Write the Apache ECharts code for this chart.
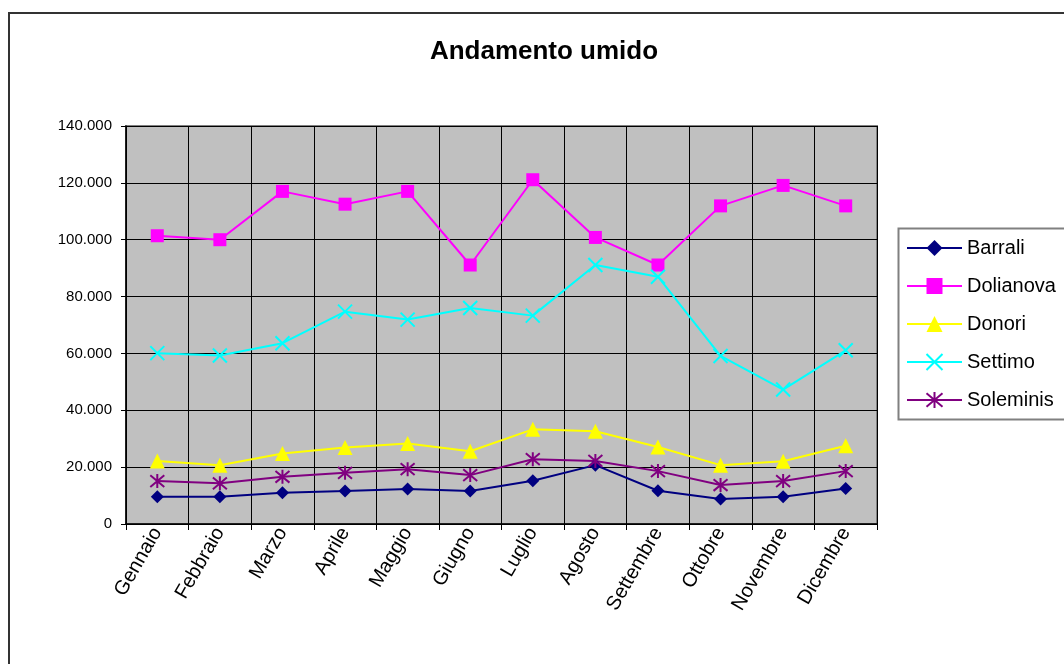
<!DOCTYPE html>
<html>
<head>
<meta charset="utf-8">
<script src="https://cdn.jsdelivr.net/npm/echarts@6/dist/echarts.min.js"></script>
<style>
html,body{margin:0;padding:0;background:#fff;}
#chart{width:1064px;height:664px;}
</style>
</head>
<body>
<div id="chart"></div>
<script>
const title = 'Andamento umido';
const months = ['Gennaio','Febbraio','Marzo','Aprile','Maggio','Giugno','Luglio','Agosto','Settembre','Ottobre','Novembre','Dicembre'];
const barrali   = [9600, 9600, 11000, 11600, 12300, 11600, 15200, 20700, 11700, 8800, 9600, 12500];
const dolianova = [101400, 100000, 117000, 112500, 117000, 91100, 121100, 100800, 91100, 111900, 119100, 111900];
const donori    = [22200, 20700, 24800, 26900, 28300, 25600, 33300, 32600, 27100, 20700, 22100, 27500];
const settimo   = [60100, 59300, 63600, 74700, 71900, 76000, 73300, 91100, 87000, 59100, 47300, 61100];
const soleminis = [15100, 14300, 16600, 18000, 19300, 17200, 22800, 22200, 18600, 13700, 15100, 18600];
const yTicks = {min: 0, max: 140000, interval: 20000};

const FONT = 'Liberation Sans, Arial, sans-serif';
const X_PATH = 'path://M0 0L10 10M10 0L0 10';
const AST_PATH = 'path://M0 0L10 10M10 0L0 10M5 -1L5 11';

function fmt(v){
  if (v === 0) return '0';
  return (v/1000).toFixed(0) + '.000';
}

function mk(name, data, color, symbol, size, stroke){
  const s = {
    name, type: 'line', data, symbol, symbolSize: size,
    lineStyle: {color, width: 2},
    itemStyle: {color},
    emphasis: {disabled: true},
    animation: false,
    z: 3
  };
  if (stroke) {
    s.itemStyle = {color: 'rgba(0,0,0,0)', borderColor: color, borderWidth: 2};
  }
  return s;
}

const chart = echarts.init(document.getElementById('chart'), null, {renderer: 'canvas'});
chart.setOption({
  animation: false,
  backgroundColor: '#ffffff',
  title: {
    text: title, left: 539, textAlign: 'center', top: 34,
    textStyle: {fontFamily: FONT, fontWeight: 'bold', fontSize: 26, color: '#000'}
  },
  graphic: [
    {type: 'rect', shape: {x: 9, y: 13, width: 1200, height: 800},
     style: {fill: 'none', stroke: '#333', lineWidth: 2}, silent: true, z: 100},
    {type: 'rect', shape: {x: 898.5, y: 228.5, width: 400, height: 191},
     style: {fill: '#fff', stroke: '#808080', lineWidth: 2}, silent: true, z: -1}
  ],
  legend: {
    orient: 'vertical', left: 906, top: 238, padding: 0,
    itemWidth: 55, itemHeight: 20, itemGap: 18,
    textStyle: {fontFamily: FONT, fontSize: 20, color: '#000'},
    data: ['Barrali','Dolianova','Donori','Settimo','Soleminis']
  },
  grid: {
    left: 126, right: 187, top: 126, bottom: 140,
    show: true, backgroundColor: '#c0c0c0', borderColor: '#808080', borderWidth: 2
  },
  xAxis: {
    type: 'category', data: months, boundaryGap: true,
    axisLine: {lineStyle: {color: '#000', width: 1.5}},
    axisTick: {show: true, length: 6, lineStyle: {color: '#000'}},
    axisLabel: {rotate: 60, margin: 5, fontFamily: FONT, fontSize: 20, color: '#000', interval: 0},
    splitLine: {show: true, lineStyle: {color: '#000', width: 1}}
  },
  yAxis: {
    type: 'value', min: yTicks.min, max: yTicks.max, interval: yTicks.interval,
    axisLine: {show: true, lineStyle: {color: '#000', width: 1.5}},
    axisTick: {show: true, length: 5, lineStyle: {color: '#000'}},
    axisLabel: {margin: 14, fontFamily: FONT, fontSize: 15, color: '#000', formatter: fmt},
    splitLine: {show: true, lineStyle: {color: '#000', width: 1}}
  },
  series: [
    mk('Barrali', barrali, '#000080', 'diamond', 13),
    mk('Dolianova', dolianova, '#ff00ff', 'rect', 13),
    mk('Donori', donori, '#ffff00', 'triangle', 15),
    mk('Settimo', settimo, '#00ffff', X_PATH, 14, true),
    mk('Soleminis', soleminis, '#800080', AST_PATH, 14, true)
  ]
});
</script>
</body>
</html>
